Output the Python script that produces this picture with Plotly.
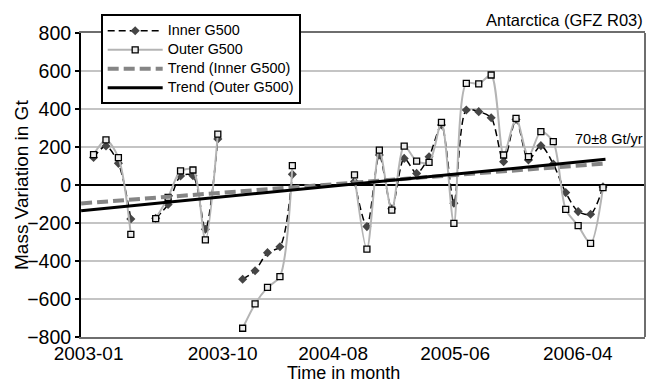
import plotly.graph_objects as go

# month index: 0 = 2003-01 (monthly, gaps are missing months)
months = list(range(0, 42))
outer_vals = {0: 160, 1: 237, 2: 144, 3: -260, 5: -177, 6: -65, 7: 74, 8: 79, 9: -289, 10: 268,
              12: -754, 13: -626, 14: -539, 15: -482, 16: 102,
              21: 53, 22: -337, 23: 184, 24: -132, 25: 205, 26: 126, 27: 119, 28: 330, 29: -202,
              30: 535, 31: 532, 32: 579, 33: 158, 34: 351, 35: 149, 36: 281, 37: 228, 38: -128,
              39: -214, 40: -307, 41: -14}
inner_vals = {0: 145, 1: 205, 2: 114, 3: -179, 5: -175, 6: -102, 7: 47, 8: 49, 9: -233, 10: 242,
              12: -496, 13: -451, 14: -356, 15: -325, 16: 56,
              21: 18, 22: -219, 23: 158, 24: -125, 25: 140, 26: 61, 27: 149, 28: 316, 29: -96,
              30: 395, 31: 386, 32: 354, 33: 123, 34: 345, 35: 132, 36: 207, 37: 110, 38: -40,
              39: -140, 40: -154, 41: -10}
outer = [outer_vals.get(m) for m in months]
inner = [inner_vals.get(m) for m in months]

trend_x = [-1.0, 41.2]
trend_inner = [-97, 113]
trend_outer = [-135, 135]

series_names = ["Inner G500", "Outer G500", "Trend (Inner G500)", "Trend (Outer G500)"]
label_pos = [-0.4, 10.39, 19.28, 29.1, 38.97]
label_text = ["2003-01", "2003-10", "2004-08", "2005-06", "2006-04"]
grid_pos = [8.92, 18.78, 28.6, 38.55]
x_range = [-1.01, 44.38]

FONT = "Liberation Sans, Arial, Helvetica, sans-serif"


def lg(name):
    return '<span style="font-size:14.4px">' + name + "</span>"


fig = go.Figure()
fig.add_trace(go.Scatter(
    x=months, y=inner, name=lg(series_names[0]), mode="lines+markers",
    line=dict(color="black", width=1.5, dash="7px,4px", shape="spline", smoothing=0.8),
    marker=dict(symbol="diamond", size=7, color="#454545", line=dict(width=0)),
    connectgaps=False))
fig.add_trace(go.Scatter(
    x=months, y=outer, name=lg(series_names[1]), mode="lines+markers",
    line=dict(color="#b4b4b4", width=2, shape="spline", smoothing=0.8),
    marker=dict(symbol="square", size=6, color="#ececec", line=dict(color="black", width=1.3)),
    connectgaps=False))
fig.add_trace(go.Scatter(
    x=trend_x, y=trend_inner, name=lg(series_names[2]), mode="lines",
    line=dict(color="#858585", width=4, dash="11px,5px")))
fig.add_trace(go.Scatter(
    x=trend_x, y=trend_outer, name=lg(series_names[3]), mode="lines",
    line=dict(color="black", width=3)))

fig.update_layout(
    width=650, height=383,
    margin=dict(l=81, r=5, t=33, b=46),
    paper_bgcolor="white", plot_bgcolor="white",
    font=dict(family=FONT, color="black"),
    showlegend=True,
    legend=dict(x=0.0349, y=1.0615, xanchor="left", yanchor="top",
                bgcolor="white", bordercolor="black", borderwidth=2,
                font=dict(size=11, family=FONT), itemwidth=55, tracegroupgap=0),
    xaxis=dict(range=x_range, tickmode="array", tickvals=label_pos, ticktext=label_text,
               showgrid=False, zeroline=False, showline=True, linecolor="#6e6e6e",
               linewidth=2, mirror=True, ticks="", ticklen=0, ticklabelstandoff=-2,
               tickfont=dict(size=19)),
    xaxis2=dict(range=x_range, overlaying="x", anchor="y", tickmode="array", tickvals=grid_pos,
                showgrid=True, gridcolor="#c4c4c4", gridwidth=1.5, showticklabels=False,
                zeroline=False, showline=False, ticks=""),
    yaxis=dict(range=[-800, 800], tickmode="linear", tick0=-800, dtick=200,
               showgrid=True, gridcolor="#c4c4c4", gridwidth=1.5,
               zeroline=True, zerolinecolor="black", zerolinewidth=2,
               showline=True, linecolor="black", linewidth=2,
               ticks="outside", ticklen=4, tickwidth=1.5, tickcolor="black",
               tickfont=dict(size=19.5)),
    shapes=[dict(type="line", xref="paper", yref="paper", x0=1, x1=1, y0=0, y1=1,
                 line=dict(color="#6e6e6e", width=2), layer="above")],
    annotations=[
        dict(text="Antarctica (GFZ R03)", xref="paper", yref="paper", x=1.0, y=1.0428,
             xanchor="right", yanchor="middle", showarrow=False, font=dict(size=16.5)),
        dict(text="70±8 Gt/yr", xref="x", yref="y", x=38.6, y=242,
             xanchor="left", yanchor="middle", showarrow=False, font=dict(size=14.5)),
        dict(text="Time in month", xref="paper", yref="paper", x=0.4663, y=-0.12,
             xanchor="center", yanchor="middle", showarrow=False, font=dict(size=18)),
        dict(text="Mass Variation in Gt", xref="paper", yref="paper", x=-0.1064, y=0.5,
             xanchor="center", yanchor="middle", textangle=-90, showarrow=False,
             font=dict(size=19)),
    ],
)

fig.write_html("out.html")
